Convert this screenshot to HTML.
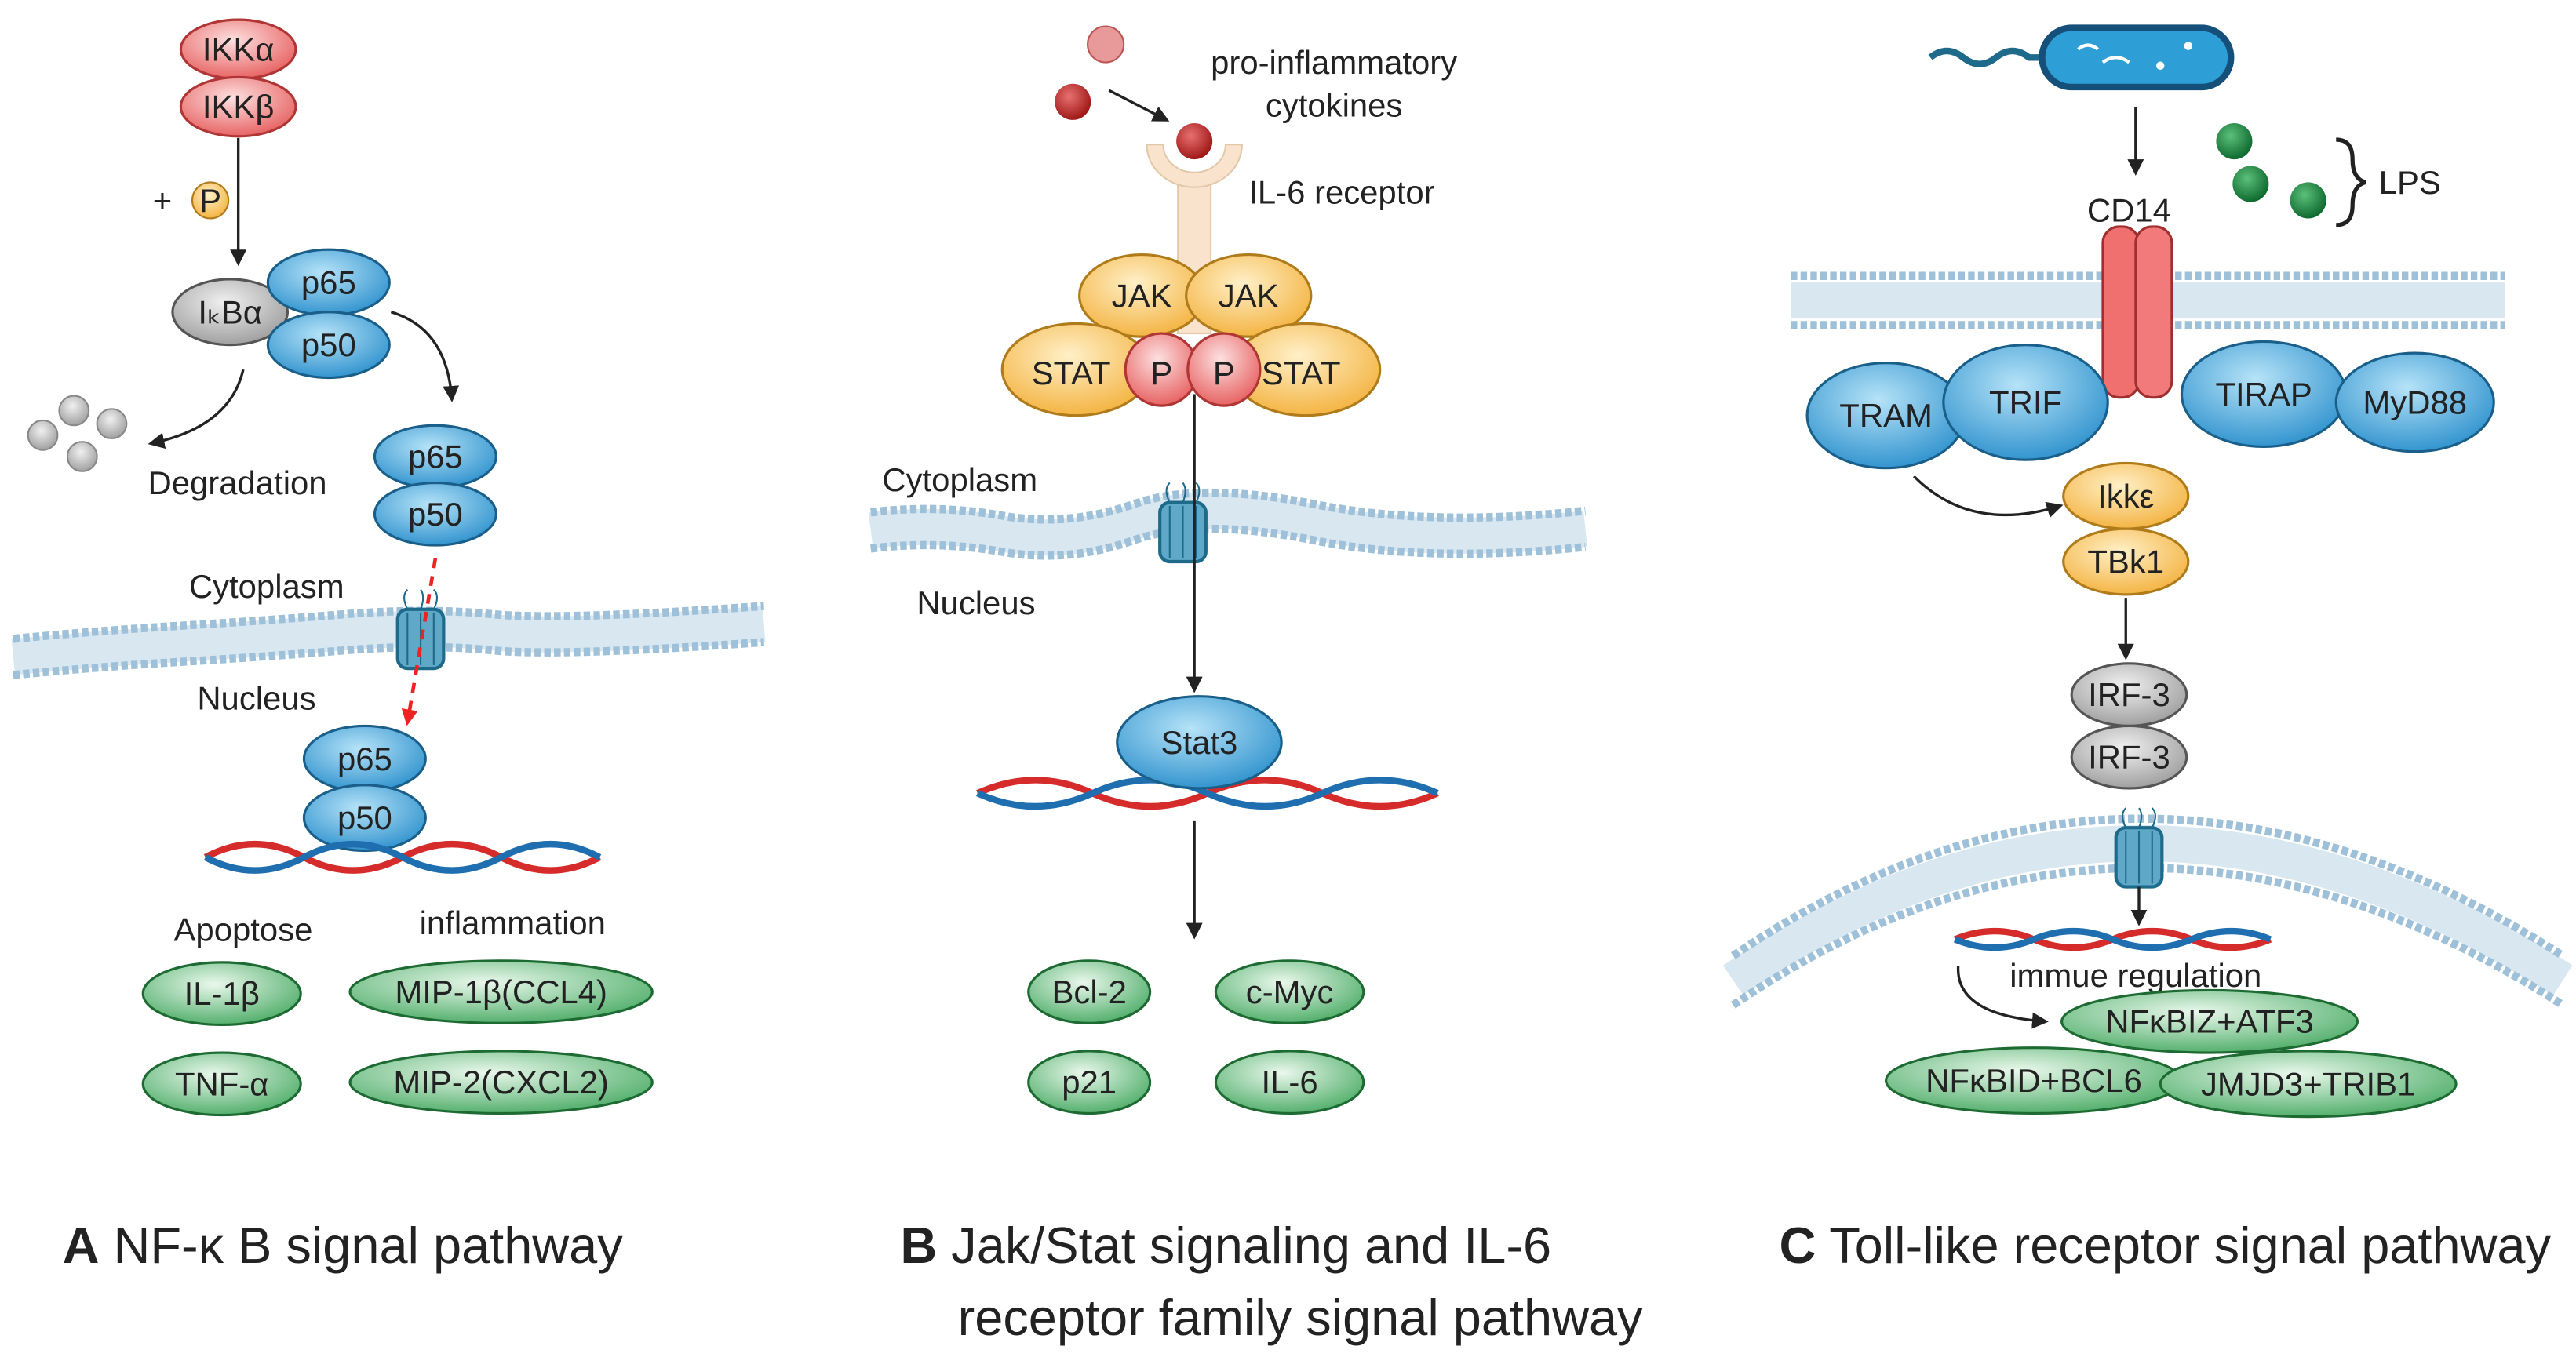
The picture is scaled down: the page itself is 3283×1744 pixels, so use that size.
<!DOCTYPE html>
<html><head><meta charset="utf-8"><style>
html,body{margin:0;padding:0;background:#fff}
svg{display:block}
text{font-family:"Liberation Sans",sans-serif;fill:#222}
</style></head><body>
<svg width="3283" height="1744" viewBox="0 0 1568 833" xmlns="http://www.w3.org/2000/svg">
<defs>
<radialGradient id="bl" cx="45%" cy="35%" r="70%"><stop offset="0" stop-color="#b6e3f8"/><stop offset="1" stop-color="#2a8fcc"/></radialGradient>
<radialGradient id="gr" cx="45%" cy="35%" r="75%"><stop offset="0" stop-color="#eaf8ec"/><stop offset="1" stop-color="#3da55a"/></radialGradient>
<radialGradient id="pk" cx="45%" cy="35%" r="70%"><stop offset="0" stop-color="#fde0e0"/><stop offset="1" stop-color="#e65a5a"/></radialGradient>
<radialGradient id="or" cx="45%" cy="35%" r="70%"><stop offset="0" stop-color="#fff0c8"/><stop offset="1" stop-color="#f3b03a"/></radialGradient>
<radialGradient id="gy" cx="45%" cy="35%" r="70%"><stop offset="0" stop-color="#f0f0f0"/><stop offset="1" stop-color="#9a9a9a"/></radialGradient>
<radialGradient id="rb" cx="40%" cy="35%" r="65%"><stop offset="0" stop-color="#e87070"/><stop offset="1" stop-color="#a01818"/></radialGradient>
<radialGradient id="gb" cx="40%" cy="35%" r="65%"><stop offset="0" stop-color="#5cc07a"/><stop offset="1" stop-color="#0f6a30"/></radialGradient>
<marker id="ar" markerWidth="10" markerHeight="10" refX="8" refY="5" orient="auto" markerUnits="userSpaceOnUse"><path d="M0,0 L10,5 L0,10 z" fill="#222"/></marker>
<marker id="arr" markerWidth="10" markerHeight="10" refX="8" refY="5" orient="auto" markerUnits="userSpaceOnUse"><path d="M0,0 L10,5 L0,10 z" fill="#e22"/></marker>
<g id="pore"><rect x="-14" y="-14" width="28" height="36" rx="6" fill="#5fa8c8" stroke="#1e6a8a" stroke-width="2"/><line x1="-8" y1="-12" x2="-8" y2="20" stroke="#1e6a8a"/><line x1="0" y1="-12" x2="0" y2="20" stroke="#1e6a8a"/><line x1="8" y1="-12" x2="8" y2="20" stroke="#1e6a8a"/><path d="M-8,-14 q-4,-8 0,-12 M0,-14 q3,-8 0,-12 M8,-14 q4,-8 0,-12" stroke="#1e6a8a" fill="none"/></g>
</defs>
<style>
.mb{fill:none;stroke:#d9e7f1;stroke-width:22}
.md{fill:none;stroke:#9ec0d8;stroke-width:5;stroke-dasharray:4 2}
.e{stroke-width:1.5}
.b{fill:url(#bl);stroke:#1a5f8a}
.g{fill:url(#gr);stroke:#1d6b32}
.p{fill:url(#pk);stroke:#b03535}
.o{fill:url(#or);stroke:#b07b1a}
.y{fill:url(#gy);stroke:#555}
.t{font-size:20px;text-anchor:middle;dominant-baseline:central}
.l{stroke:#222;stroke-width:1.6;fill:none}
</style>

<!-- ===== Panel A ===== -->
<ellipse class="p e" cx="145" cy="30" rx="35" ry="18"/><text class="t" x="145" y="30">IKKα</text>
<ellipse class="p e" cx="145" cy="65" rx="35" ry="18"/><text class="t" x="145" y="65">IKKβ</text>
<line class="l" x1="145" y1="84" x2="145" y2="160" marker-end="url(#ar)"/>
<text x="93" y="129" font-size="20">+</text>
<circle cx="128" cy="122" r="11" fill="url(#or)" stroke="#b07b1a"/><text class="t" x="128" y="122" font-size="17">P</text>
<ellipse class="y e" cx="140" cy="190" rx="35" ry="20"/><text class="t" x="140" y="190">IₖBα</text>
<ellipse class="b e" cx="200" cy="172" rx="37" ry="20"/><text class="t" x="200" y="172">p65</text>
<ellipse class="b e" cx="200" cy="210" rx="37" ry="20"/><text class="t" x="200" y="210">p50</text>
<path class="l" d="M148,225 Q140,260 92,270" marker-end="url(#ar)"/>
<g fill="url(#gy)" stroke="#888"><circle cx="45" cy="250" r="9"/><circle cx="68" cy="258" r="9"/><circle cx="26" cy="265" r="9"/><circle cx="50" cy="278" r="9"/></g>
<text x="90" y="301" font-size="20">Degradation</text>
<path class="l" d="M238,190 Q272,200 275,243" marker-end="url(#ar)"/>
<ellipse class="b e" cx="265" cy="278" rx="37" ry="19"/><text class="t" x="265" y="278">p65</text>
<ellipse class="b e" cx="265" cy="313" rx="37" ry="19"/><text class="t" x="265" y="313">p50</text>
<text x="115" y="364" font-size="20">Cytoplasm</text>
<path class="mb" d="M8,400 Q60,395 110,392 T210,385 T300,385 T465,380"/>
<path class="md" d="M8,389 Q60,384 110,381 T210,374 T300,374 T465,369"/>
<path class="md" d="M8,411 Q60,406 110,403 T210,396 T300,396 T465,391"/>
<use href="#pore" x="256" y="385"/>
<line x1="265" y1="340" x2="248" y2="440" stroke="#e22" stroke-width="2.2" stroke-dasharray="6 5" marker-end="url(#arr)"/>
<text x="120" y="432" font-size="20">Nucleus</text>
<ellipse class="b e" cx="222" cy="462" rx="37" ry="20"/><text class="t" x="222" y="462">p65</text>
<ellipse class="b e" cx="222" cy="498" rx="37" ry="20"/><text class="t" x="222" y="498">p50</text>
<path d="M125,522 q30,-16 60,0 t60,0 t60,0 t60,0" stroke="#d52b2b" stroke-width="4" fill="none"/><path d="M125,522 q30,16 60,0 t60,0 t60,0 t60,0" stroke="#1f6fb0" stroke-width="4" fill="none"/>
<text class="t" x="148" y="566">Apoptose</text>
<text class="t" x="312" y="562">inflammation</text>
<ellipse class="g e" cx="135" cy="605" rx="48" ry="19"/><text class="t" x="135" y="605">IL-1β</text>
<ellipse class="g e" cx="305" cy="604" rx="92" ry="19"/><text class="t" x="305" y="604">MIP-1β(CCL4)</text>
<ellipse class="g e" cx="135" cy="660" rx="48" ry="19"/><text class="t" x="135" y="660">TNF-α</text>
<ellipse class="g e" cx="305" cy="659" rx="92" ry="19"/><text class="t" x="305" y="659">MIP-2(CXCL2)</text>
<text x="38" y="769" font-size="31"><tspan font-weight="bold">A</tspan>  NF-κ B signal pathway</text>

<!-- ===== Panel B ===== -->
<circle cx="673" cy="27" r="11" fill="#e89a9a" stroke="#b55"/>
<circle cx="653" cy="62" r="11" fill="url(#rb)"/>
<circle cx="727" cy="86" r="11" fill="url(#rb)"/>
<line class="l" x1="675" y1="55" x2="710" y2="73" marker-end="url(#ar)"/>
<text class="t" x="812" y="38">pro-inflammatory</text>
<text class="t" x="812" y="64">cytokines</text>
<rect x="717" y="108" width="20" height="95" fill="#f9e3cc" stroke="#e2c8a8"/>
<path d="M698,88 A29,26 0 0 0 756,88 L746,88 A19,17 0 0 1 708,88 Z" fill="#f9e3cc" stroke="#e2c8a8"/>
<text x="760" y="124" font-size="20">IL-6 receptor</text>
<ellipse class="o e" cx="695" cy="180" rx="38" ry="25"/><text class="t" x="695" y="180">JAK</text>
<ellipse class="o e" cx="760" cy="180" rx="38" ry="25"/><text class="t" x="760" y="180">JAK</text>
<ellipse class="o e" cx="655" cy="225" rx="45" ry="28"/><text class="t" x="652" y="227">STAT</text>
<ellipse class="o e" cx="795" cy="225" rx="45" ry="28"/><text class="t" x="792" y="227">STAT</text>
<circle class="p e" cx="707" cy="225" r="22"/><text class="t" x="707" y="227">P</text>
<circle class="p e" cx="745" cy="225" r="22"/><text class="t" x="745" y="227">P</text>
<text x="537" y="299" font-size="20">Cytoplasm</text>
<path class="mb" d="M530,323 Q570,318 610,325 T690,318 T800,318 T965,322"/>
<path class="md" d="M530,312 Q570,307 610,314 T690,307 T800,307 T965,311"/>
<path class="md" d="M530,334 Q570,329 610,336 T690,329 T800,329 T965,333"/>
<use href="#pore" x="720" y="320"/>
<line class="l" x1="727" y1="240" x2="727" y2="420" marker-end="url(#ar)"/>
<text x="558" y="374" font-size="20">Nucleus</text>
<path d="M595,483 q35,-16 70,0 t70,0 t70,0 t70,0" stroke="#d52b2b" stroke-width="4" fill="none"/>
<path d="M595,483 q35,16 70,0 t70,0 t70,0 t70,0" stroke="#1f6fb0" stroke-width="4" fill="none"/>
<ellipse class="b e" cx="730" cy="452" rx="50" ry="28"/><text class="t" x="730" y="452">Stat3</text>
<line class="l" x1="727" y1="500" x2="727" y2="570" marker-end="url(#ar)"/>
<ellipse class="g e" cx="663" cy="604" rx="37" ry="19"/><text class="t" x="663" y="604">Bcl-2</text>
<ellipse class="g e" cx="785" cy="604" rx="45" ry="19"/><text class="t" x="785" y="604">c-Myc</text>
<ellipse class="g e" cx="663" cy="659" rx="37" ry="19"/><text class="t" x="663" y="659">p21</text>
<ellipse class="g e" cx="785" cy="659" rx="45" ry="19"/><text class="t" x="785" y="659">IL-6</text>
<text x="548" y="769" font-size="31"><tspan font-weight="bold">B</tspan>  Jak/Stat signaling and IL-6</text>
<text x="583" y="813" font-size="31">receptor family signal pathway</text>

<!-- ===== Panel C ===== -->
<path d="M1175,35 q10,-8 20,0 t20,0 t20,0 l8,0" stroke="#1e6a8a" stroke-width="4" fill="none"/>
<rect x="1243" y="17" width="115" height="36" rx="18" fill="#2d9fd6" stroke="#14507a" stroke-width="4"/>
<path d="M1265,30 q6,-5 12,0 M1280,38 q8,-6 16,0" stroke="#fff" stroke-width="2" fill="none"/>
<circle cx="1315" cy="40" r="2.5" fill="#fff"/><circle cx="1332" cy="28" r="2.5" fill="#fff"/>
<line class="l" x1="1300" y1="65" x2="1300" y2="105" marker-end="url(#ar)"/>
<circle cx="1360" cy="86" r="11" fill="url(#gb)"/><circle cx="1370" cy="112" r="11" fill="url(#gb)"/><circle cx="1405" cy="122" r="11" fill="url(#gb)"/>
<path d="M1422,85 q10,0 10,12 q0,12 8,14 q-8,2 -8,14 q0,12 -10,12" stroke="#222" stroke-width="2.5" fill="none"/>
<text x="1448" y="118" font-size="20">LPS</text>
<text class="t" x="1296" y="128">CD14</text>
<path class="mb" d="M1090,183 L1525,183" stroke-width="30"/>
<path class="md" d="M1090,168 L1525,168"/>
<path class="md" d="M1090,198 L1525,198"/>
<rect x="1280" y="138" width="22" height="104" rx="10" fill="#f07070" stroke="#a03030" stroke-width="1.5"/>
<rect x="1300" y="138" width="22" height="104" rx="10" fill="#f27a7a" stroke="#a03030" stroke-width="1.5"/>
<ellipse class="b e" cx="1148" cy="253" rx="48" ry="32"/><text class="t" x="1148" y="253">TRAM</text>
<ellipse class="b e" cx="1233" cy="245" rx="50" ry="35"/><text class="t" x="1233" y="245">TRIF</text>
<ellipse class="b e" cx="1378" cy="240" rx="50" ry="32"/><text class="t" x="1378" y="240">TIRAP</text>
<ellipse class="b e" cx="1470" cy="245" rx="48" ry="30"/><text class="t" x="1470" y="245">MyD88</text>
<path class="l" d="M1165,290 Q1200,325 1254,308" marker-end="url(#ar)"/>
<ellipse class="o e" cx="1294" cy="302" rx="38" ry="20"/><text class="t" x="1294" y="302">Ikkε</text>
<ellipse class="o e" cx="1294" cy="342" rx="38" ry="20"/><text class="t" x="1294" y="342">TBk1</text>
<line class="l" x1="1294" y1="364" x2="1294" y2="400" marker-end="url(#ar)"/>
<ellipse class="y e" cx="1296" cy="423" rx="35" ry="19"/><text class="t" x="1296" y="423">IRF-3</text>
<ellipse class="y e" cx="1296" cy="461" rx="35" ry="19"/><text class="t" x="1296" y="461">IRF-3</text>
<path class="mb" d="M1055,597 Q1300,430 1560,597" stroke-width="30"/>
<path class="md" d="M1055,582 Q1300,415 1560,582"/>
<path class="md" d="M1055,612 Q1300,445 1560,612"/>
<use href="#pore" x="1302" y="518"/>
<line class="l" x1="1302" y1="540" x2="1302" y2="562" marker-end="url(#ar)"/>
<path d="M1190,572 q24,-10 48,0 t48,0 t48,0 t48,0" stroke="#d52b2b" stroke-width="4" fill="none"/>
<path d="M1190,572 q24,10 48,0 t48,0 t48,0 t48,0" stroke="#1f6fb0" stroke-width="4" fill="none"/>
<text class="t" x="1300" y="594">immue regulation</text>
<path class="l" d="M1192,588 Q1190,618 1245,622" marker-end="url(#ar)"/>
<ellipse class="g e" cx="1345" cy="622" rx="90" ry="19"/><text class="t" x="1345" y="622">NFκBIZ+ATF3</text>
<ellipse class="g e" cx="1238" cy="658" rx="90" ry="20"/><text class="t" x="1238" y="658">NFκBID+BCL6</text>
<ellipse class="g e" cx="1405" cy="660" rx="90" ry="20"/><text class="t" x="1405" y="660">JMJD3+TRIB1</text>
<text x="1083" y="769" font-size="31"><tspan font-weight="bold">C</tspan>  Toll-like receptor signal pathway</text>
</svg>
</body></html>
